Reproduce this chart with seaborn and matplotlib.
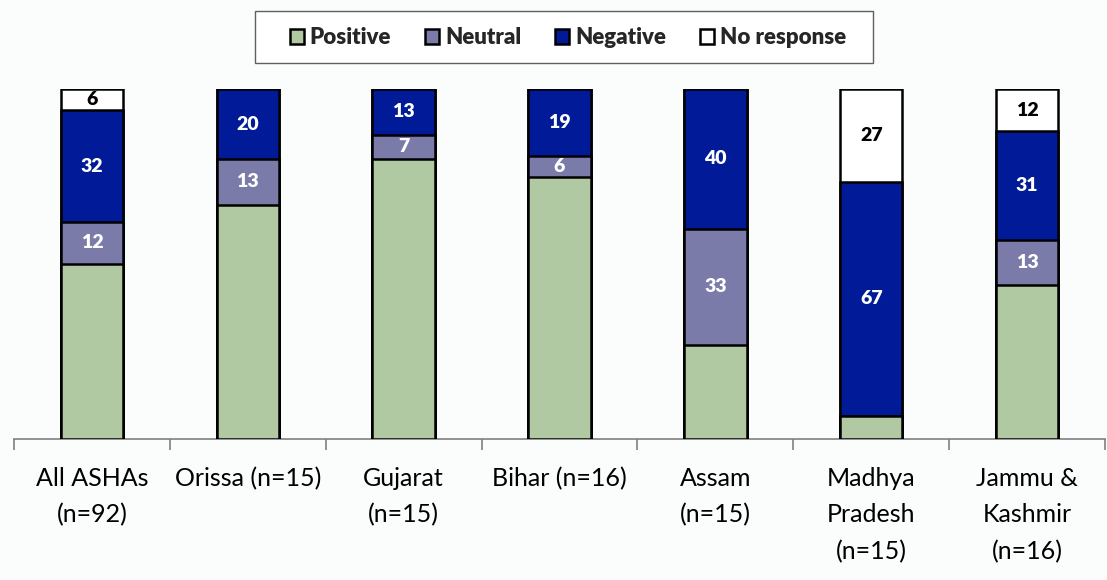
import numpy as np
import pandas as pd
import matplotlib
matplotlib.use("Agg")
import matplotlib.pyplot as plt
import seaborn as sns
from matplotlib.patches import Patch, Rectangle
from matplotlib.ticker import FixedLocator

categories = ["All ASHAs\n(n=92)", "Orissa (n=15)", "Gujarat\n(n=15)", "Bihar (n=16)",
              "Assam\n(n=15)", "Madhya\nPradesh\n(n=15)", "Jammu &\nKashmir\n(n=16)"]
positive = [50, 67, 80, 75, 27, 6.7, 44]
neutral = [12, 13, 7, 6, 33, 0, 13]
negative = [32, 20, 13, 19, 40, 66.6, 31]
no_response = [6, 0, 0, 0, 0, 26.7, 12]

series_names = ["Positive", "Neutral", "Negative", "No response"]
series_vals = [positive, neutral, negative, no_response]
colors = ["#b1c9a2", "#7b7ba9", "#001a98", "#ffffff"]
label_colors = [None, "white", "white", "black"]

sns.set_theme(style="white")
plt.rcParams["font.family"] = ["Lato", "DejaVu Sans"]

bg = "#fbfcfc"
fig = plt.figure(figsize=(11.07, 5.80), dpi=100, facecolor=bg)
ax = fig.add_axes([14/1107, 1-439/580, (1105-14)/1107, 350/580])
ax.set_facecolor(bg)

df = pd.DataFrame({"cat": categories})
cums = np.cumsum(np.array(series_vals), axis=0)
# draw from top layer down so lower layers overlay
for i in range(len(series_names)-1, -1, -1):
    df["v"] = cums[i]
    sns.barplot(data=df, x="cat", y="v", color=colors[i], saturation=1, width=0.4,
                edgecolor="black", linewidth=1.8, ax=ax, zorder=2+(3-i))

# value labels
for i in range(1, 4):
    for j, v in enumerate(series_vals[i]):
        if v <= 0:
            continue
        bottom = cums[i][j] - v
        y = bottom + v/2
        ax.text(j, y, f"{v:.0f}", ha="center", va="center", color=label_colors[i],
                fontsize=14, fontweight="heavy", zorder=10)

ax.set_xlim(-0.5, 6.5)
ax.set_ylim(0, 100)
ax.set_xlabel("")
ax.set_ylabel("")
ax.set_yticks([])
for s in ["top", "right", "left"]:
    ax.spines[s].set_visible(False)
ax.spines["bottom"].set_color("#808080")
ax.spines["bottom"].set_linewidth(1.2)
ax.xaxis.set_minor_locator(FixedLocator(np.arange(-0.5, 7, 1)))
ax.tick_params(axis="x", which="major", length=0, pad=20, labelsize=18, labelcolor="black")
ax.tick_params(axis="x", which="minor", length=8, width=1.2, color="#808080", bottom=True)
for t in ax.get_xticklabels():
    t.set_linespacing(1.7)
    t.set_verticalalignment("top")

handles = [Patch(facecolor=c, edgecolor="black", linewidth=1.8) for c in colors]
leg = fig.legend(handles, series_names, loc="center", bbox_to_anchor=(568/1107, 1-38/580),
                 ncol=4, frameon=False, handlelength=0.63, handleheight=0.63,
                 handletextpad=0.25, columnspacing=1.55,
                 prop={"weight": "heavy", "size": 16})
fig.patches.append(Rectangle((255/1107, 1-63/580), (873-255)/1107, 52/580,
                             transform=fig.transFigure, facecolor="white",
                             edgecolor="#606060", linewidth=1.0, zorder=0))

fig.savefig("out.png", dpi=100, facecolor=bg)
